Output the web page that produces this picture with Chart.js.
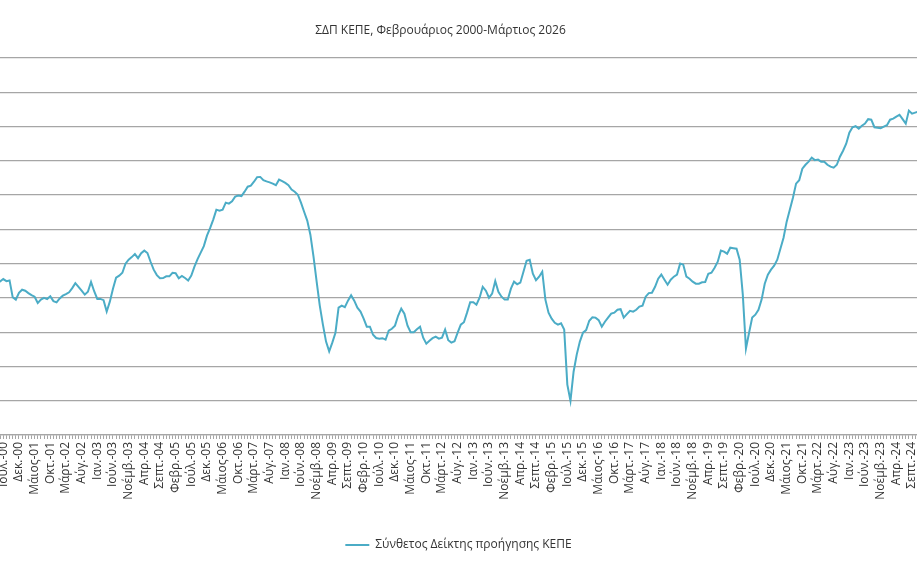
<!DOCTYPE html>
<html lang="el">
<head>
<meta charset="utf-8">
<title>ΣΔΠ ΚΕΠΕ</title>
<script src="https://cdn.jsdelivr.net/npm/chart.js@4.4.1/dist/chart.umd.min.js"></script>
<style>
    html, body { margin: 0; padding: 0; background: #fff; }
    .chart-wrap { position: relative; width: 917px; height: 573px; }
    .chart-title {
        position: absolute; top: 22px; left: 0; width: 881px;
        text-align: center; line-height: 16px;
        font-family: 'Open Sans', sans-serif; font-size: 12px; color: #333333;
    }
</style>
</head>
<body>
<div class="chart-wrap">
    <div class="chart-title">ΣΔΠ ΚΕΠΕ, Φεβρουάριος 2000-Μάρτιος 2026</div>
    <canvas id="leadingIndexChart"></canvas>
</div>
<script>
// Month abbreviations used on the x axis
const monthNames = ['Ιαν.', 'Φεβρ.', 'Μάρτ.', 'Απρ.', 'Μάιος', 'Ιούν.', 'Ιούλ.', 'Αύγ.', 'Σεπτ.', 'Οκτ.', 'Νοέμβ.', 'Δεκ.'];

// Composite leading index, one value per month (Feb 2000 - Mar 2026)
const index2000 = [96.95, 97.06, 96.89, 97.00, 96.96, 97.10, 96.98, 97.02, 96.04, 95.90, 96.30];
const index2001 = [96.48, 96.42, 96.28, 96.16, 96.07, 95.70, 95.90, 96.00, 95.93, 96.09, 95.81, 95.74];
const index2002 = [95.97, 96.13, 96.22, 96.33, 96.57, 96.86, 96.65, 96.42, 96.19, 96.36, 96.93, 96.39];
const index2003 = [95.94, 95.94, 95.87, 95.21, 95.78, 96.54, 97.18, 97.30, 97.47, 98.00, 98.23, 98.38];
const index2004 = [98.56, 98.32, 98.61, 98.76, 98.62, 98.11, 97.65, 97.33, 97.15, 97.16, 97.26, 97.26];
const index2005 = [97.47, 97.44, 97.15, 97.28, 97.16, 97.02, 97.30, 97.82, 98.26, 98.64, 99.02, 99.63];
const index2006 = [100.07, 100.57, 101.15, 101.09, 101.15, 101.56, 101.50, 101.64, 101.91, 101.97, 101.94, 102.20];
const index2007 = [102.49, 102.55, 102.78, 103.05, 103.06, 102.87, 102.80, 102.74, 102.67, 102.58, 102.90, 102.81];
const index2008 = [102.71, 102.58, 102.32, 102.20, 102.02, 101.56, 101.03, 100.51, 99.69, 98.41, 96.95, 95.55];
const index2009 = [94.44, 93.45, 92.88, 93.39, 93.97, 95.43, 95.55, 95.46, 95.84, 96.16, 95.84, 95.43];
const index2010 = [95.20, 94.79, 94.32, 94.32, 93.85, 93.66, 93.62, 93.65, 93.56, 94.09, 94.20, 94.38];
const index2011 = [94.96, 95.37, 95.08, 94.38, 94.00, 94.00, 94.17, 94.32, 93.68, 93.33, 93.50, 93.65];
const index2012 = [93.74, 93.62, 93.68, 94.15, 93.53, 93.39, 93.47, 93.97, 94.44, 94.58, 95.14, 95.75];
const index2013 = [95.75, 95.60, 96.01, 96.65, 96.42, 96.01, 96.25, 96.98, 96.36, 96.07, 95.90, 95.90];
const index2014 = [96.54, 96.95, 96.80, 96.89, 97.53, 98.17, 98.23, 97.41, 97.03, 97.24, 97.53, 95.90];
const index2015 = [95.14, 94.79, 94.55, 94.44, 94.52, 94.15, 90.94, 90.00, 91.69, 92.69, 93.45, 93.97];
const index2016 = [94.12, 94.67, 94.87, 94.85, 94.70, 94.32, 94.61, 94.85, 95.08, 95.14, 95.31, 95.34];
const index2017 = [94.85, 95.05, 95.25, 95.20, 95.31, 95.49, 95.55, 96.07, 96.28, 96.30, 96.65, 97.12];
const index2018 = [97.36, 97.06, 96.77, 97.06, 97.24, 97.36, 98.00, 97.94, 97.24, 97.12, 96.95, 96.83];
const index2019 = [96.83, 96.91, 96.93, 97.41, 97.47, 97.76, 98.11, 98.76, 98.70, 98.58, 98.93, 98.90];
const index2020 = [98.87, 98.23, 96.19, 93.04, 93.97, 94.85, 95.02, 95.31, 95.90, 96.83, 97.36, 97.65];
const index2021 = [97.88, 98.23, 98.87, 99.51, 100.45, 101.15, 101.85, 102.67, 102.87, 103.54, 103.77, 103.95];
const index2022 = [104.18, 104.04, 104.07, 103.95, 103.95, 103.77, 103.66, 103.60, 103.77, 104.24, 104.59, 105.00];
const index2023 = [105.64, 105.96, 106.02, 105.88, 106.05, 106.17, 106.43, 106.40, 105.96, 105.93, 105.90, 105.99];
const index2024 = [106.08, 106.40, 106.46, 106.58, 106.69, 106.43, 106.17, 106.93, 106.75, 106.81, 106.87, 106.95];
const index2025 = [107.02, 106.90, 107.08, 107.15, 107.01, 106.94, 107.10, 107.22, 107.18, 107.05, 107.12, 107.20];
const index2026 = [107.31, 107.26, 107.19];

// Visible window of the month axis (month 0 = Feb 2000) and value axis
const xWindow = [3.95, 296.59];
const yRange = [88, 110];

const indexValues = [].concat(
    index2000, index2001, index2002, index2003, index2004, index2005, index2006,
    index2007, index2008, index2009, index2010, index2011, index2012, index2013,
    index2014, index2015, index2016, index2017, index2018, index2019, index2020,
    index2021, index2022, index2023, index2024, index2025, index2026
);

// Month labels, e.g. "Ιούλ.-00"
function buildMonthLabels(count) {
    const labels = [];
    for (let i = 0; i < count; i++) {
        const m = (1 + i) % 12;
        const y = 2000 + Math.floor((1 + i) / 12);
        labels.push(monthNames[m] + '-' + String(y % 100).padStart(2, '0'));
    }
    return labels;
}

const monthLabels = buildMonthLabels(indexValues.length);

document.addEventListener('DOMContentLoaded', () => {
    const ctx = document.getElementById('leadingIndexChart').getContext('2d');
    const points = indexValues.map((v, i) => ({ x: i, y: v }));

    new Chart(ctx, {
        type: 'line',
        data: {
            datasets: [{
                label: 'Σύνθετος Δείκτης προήγησης ΚΕΠΕ',
                data: points,
                borderColor: '#4bacc6',
                backgroundColor: '#4bacc6',
                borderWidth: 2,
                pointRadius: 0,
                tension: 0,
                fill: false
            }]
        },
        options: {
            responsive: true,
            maintainAspectRatio: false,
            animation: false,
            layout: {
                padding: { top: 58, right: 0, bottom: 12, left: 0 }
            },
            plugins: {
                legend: {
                    position: 'bottom',
                    labels: {
                        usePointStyle: true,
                        pointStyle: 'line',
                        pointStyleWidth: 24,
                        color: '#333333',
                        padding: 10,
                        font: { family: 'Open Sans', size: 12 }
                    }
                },
                tooltip: { enabled: false }
            },
            scales: {
                x: {
                    type: 'linear',
                    bounds: 'data',
                    min: xWindow[0],
                    max: xWindow[1],
                    // one tick mark per month, label every fifth month
                    afterBuildTicks: (scale) => {
                        const ticks = [];
                        for (let i = Math.ceil(xWindow[0]); i <= Math.floor(xWindow[1]); i++) {
                            ticks.push({ value: i });
                        }
                        scale.ticks = ticks;
                    },
                    afterFit: (scale) => {
                        scale.height = 94;
                        scale.paddingLeft = 0;
                        scale.paddingRight = 0;
                    },
                    grid: {
                        drawOnChartArea: false,
                        drawTicks: true,
                        tickLength: 4,
                        color: '#a6a6a6',
                        lineWidth: 1
                    },
                    border: { display: true, color: '#a6a6a6', width: 1.3 },
                    ticks: {
                        autoSkip: false,
                        minRotation: 90,
                        maxRotation: 90,
                        padding: 3,
                        color: '#333333',
                        font: { family: 'Open Sans', size: 12 },
                        callback: (value) => (value % 5 === 0 ? monthLabels[value] : '')
                    }
                },
                y: {
                    min: yRange[0],
                    max: yRange[1],
                    ticks: { stepSize: 2, display: false },
                    grid: { drawTicks: false, color: '#a6a6a6', lineWidth: 1.3 },
                    border: { display: false }
                }
            }
        }
    });
});
</script>
</body>
</html>
